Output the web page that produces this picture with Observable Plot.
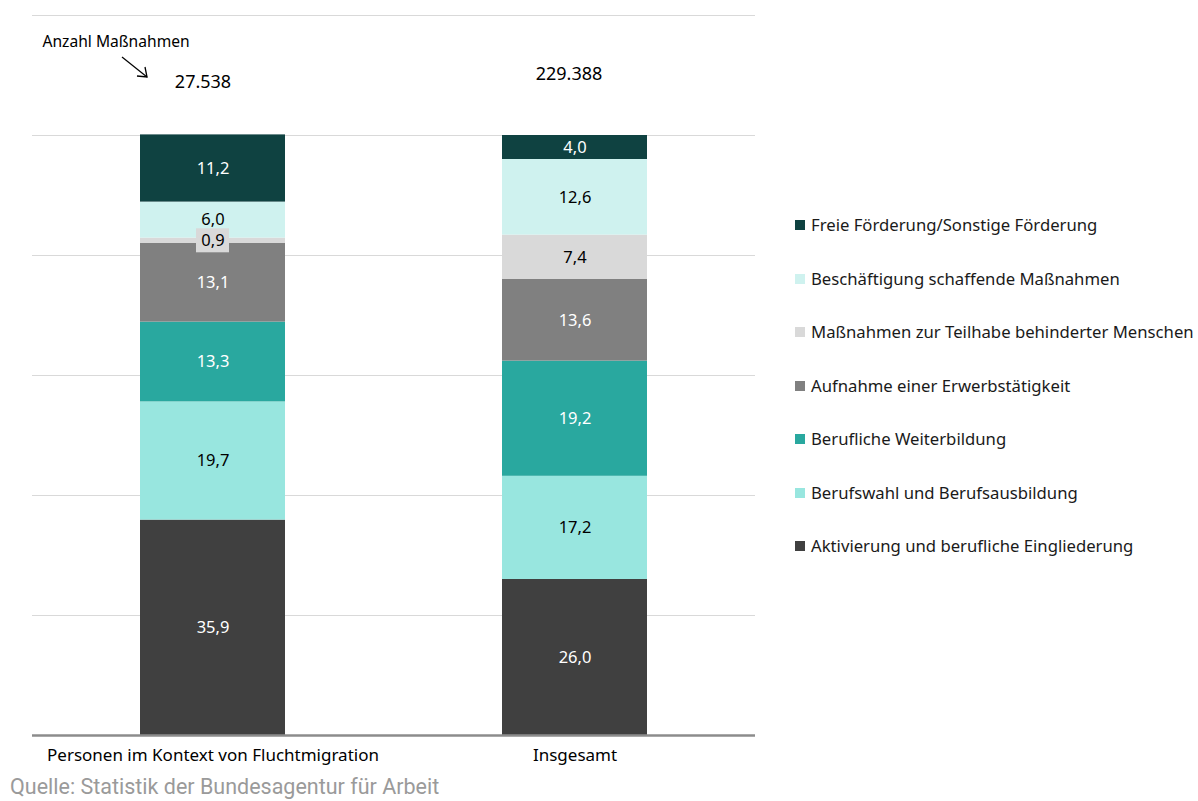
<!DOCTYPE html>
<html>
<head>
<meta charset="utf-8">
<script src="https://cdn.jsdelivr.net/npm/d3@7"></script>
<script src="https://cdn.jsdelivr.net/npm/@observablehq/plot@0.6"></script>
<style>
  html, body { margin: 0; padding: 0; background: #fff; }
  #wrap { position: relative; width: 1198px; height: 801px; font-family: "Noto Sans", sans-serif; }
  #legend { position: absolute; left: 795px; top: 213px; }
  .item { height: 53.5px; display: flex; align-items: flex-start; font-size: 16.7px; color: #1a1a1a; line-height: 24px; }
  .sw { width: 10px; height: 10px; margin-top: 7px; margin-right: 6px; flex: none; }
  #footer { position: absolute; left: 10px; top: 774px; font-family: Roboto, sans-serif; font-size: 21.5px; color: #9a9a9a; }
  #arrow { position: absolute; left: 0; top: 0; }
</style>
</head>
<body>
<div id="wrap">
  <div id="chart"></div>
  <svg id="arrow" width="200" height="100">
    <line x1="122" y1="57" x2="147" y2="77" stroke="#000" stroke-width="1.3"/>
    <polyline points="137,76 147,77 145,67" fill="none" stroke="#000" stroke-width="1.3"/>
  </svg>
  <div id="legend"></div>
  <div id="footer">Quelle: Statistik der Bundesagentur für Arbeit</div>
</div>
<script>
const categories = ["Personen im Kontext von Fluchtmigration", "Insgesamt"];
const measures = [
  "Aktivierung und berufliche Eingliederung",
  "Berufswahl und Berufsausbildung",
  "Berufliche Weiterbildung",
  "Aufnahme einer Erwerbstätigkeit",
  "Maßnahmen zur Teilhabe behinderter Menschen",
  "Beschäftigung schaffende Maßnahmen",
  "Freie Förderung/Sonstige Förderung"
];
const fluchtValues = [35.9, 19.7, 13.3, 13.1, 0.9, 6.0, 11.2];
const gesamtValues = [26.0, 17.2, 19.2, 13.6, 7.4, 12.6, 4.0];
const totals = ["27.538", "229.388"];
const colors = ["#404040", "#98e6df", "#29a89f", "#808080", "#d9d9d9", "#cff2ef", "#0f4241"];
const darkMeasures = ["Aktivierung und berufliche Eingliederung", "Berufliche Weiterbildung", "Aufnahme einer Erwerbstätigkeit", "Freie Förderung/Sonstige Förderung"];
const yTicks = [20, 40, 60, 80, 100, 120];

const data = [];
[fluchtValues, gesamtValues].forEach((vals, i) => {
  vals.forEach((v, j) => data.push({category: categories[i], measure: measures[j], value: v}));
});
const fmt = v => v.toFixed(1).replace(".", ",");
const totalData = categories.map((c, i) => ({category: c, total: totals[i]}));

const plot = Plot.plot({
  width: 1198,
  height: 801,
  marginTop: 15,
  marginBottom: 66,
  marginLeft: 32,
  marginRight: 443,
  style: {fontFamily: "Noto Sans, sans-serif", fontSize: "16px", color: "#000"},
  x: {domain: categories, paddingInner: 0.6, paddingOuter: 0.296, label: null},
  y: {domain: [0, 120], axis: null},
  color: {domain: measures, range: colors},
  marks: [
    Plot.ruleY(yTicks, {stroke: "#d9d9d9", strokeWidth: 1.2}),
    Plot.barY(data, Plot.stackY({x: "category", y: "value", z: "measure", order: measures, fill: "measure"})),
    Plot.ruleY([0], {stroke: "#8c8c8c", strokeWidth: 2.5}),
    Plot.axisX({tickSize: 0, tickPadding: 13, fontSize: 17, label: null}),
    Plot.text(data, Plot.stackY({
      x: "category", y: "value", z: "measure", order: measures,
      text: d => fmt(d.value),
      fill: d => darkMeasures.includes(d.measure) ? "#ffffff" : "#000000",
      fontSize: 16.5
    })),
    Plot.text(totalData.slice(0, 1), {x: "category", y: () => 100, text: "total", dy: -53, dx: -10, fontSize: 18}),
    Plot.text(totalData.slice(1), {x: "category", y: () => 100, text: "total", dy: -61, dx: -6, fontSize: 18}),
    Plot.text(["Anzahl Maßnahmen"], {frameAnchor: "top-left", textAnchor: "start", dx: 10, dy: 20, fontSize: 15.6})
  ]
});
document.getElementById("chart").appendChild(plot);

// box behind the 0,9 label, placed with the plot's own scales
const ys = plot.scale("y");
const xs = plot.scale("x");
{
  const idx = fluchtValues.indexOf(0.9);
  let cum = 0; for (let j = 0; j < idx; j++) cum += fluchtValues[j];
  const mid = cum + fluchtValues[idx] / 2;
  const cx = xs.apply(categories[0]) + xs.bandwidth / 2;
  const cy = ys.apply(mid);
  const ns = "http://www.w3.org/2000/svg";
  const r = document.createElementNS(ns, "rect");
  r.setAttribute("x", cx - 16.5); r.setAttribute("y", cy - 12);
  r.setAttribute("width", 33); r.setAttribute("height", 24);
  r.setAttribute("fill", "#d9d9d9");
  const target = Array.from(plot.querySelectorAll("g[aria-label='text']"))[0];
  target.parentNode.insertBefore(r, target);
}

const legend = document.getElementById("legend");
measures.slice().reverse().forEach(m => {
  const div = document.createElement("div");
  div.className = "item";
  const sw = document.createElement("span");
  sw.className = "sw";
  sw.style.background = colors[measures.indexOf(m)];
  const t = document.createElement("span");
  t.textContent = m;
  div.appendChild(sw); div.appendChild(t);
  legend.appendChild(div);
});
</script>
</body>
</html>
